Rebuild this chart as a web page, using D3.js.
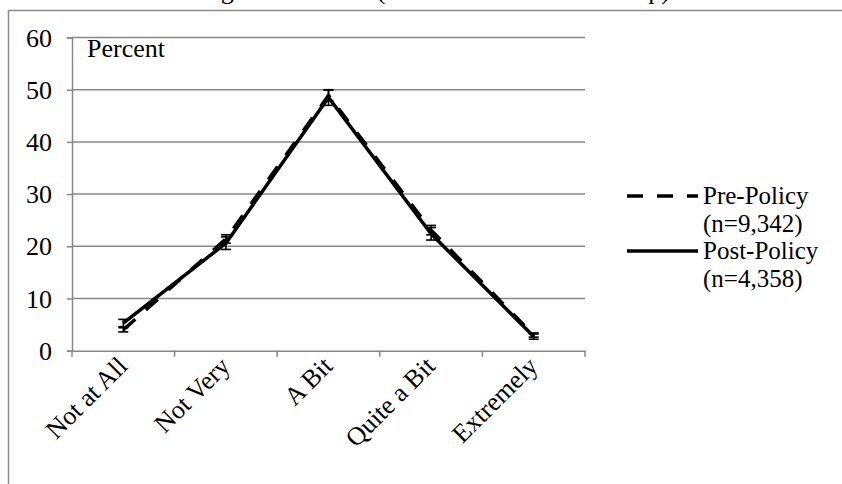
<!DOCTYPE html>
<html>
<head>
<meta charset="utf-8">
<script src="https://cdn.jsdelivr.net/npm/d3@7"></script>
<style>
  html, body { margin: 0; padding: 0; background: #fff; }
  svg { display: block; }
  text { font-family: "Liberation Serif", "Times New Roman", serif; fill: #000; }
</style>
</head>
<body>
<svg id="chart" width="842" height="484"></svg>
<script>
// Response categories and percentages per survey wave
const categories = ["Not at All", "Not Very", "A Bit", "Quite a Bit", "Extremely"];
const prePolicy = [4.0, 21.4, 48.9, 23.1, 3.0];
const postPolicy = [5.3, 20.6, 48.5, 22.4, 2.7];
const preError = [0.4, 0.8, 1.0, 0.9, 0.4];
const postError = [0.7, 1.2, 1.5, 1.2, 0.5];
const yTicks = [0, 10, 20, 30, 40, 50, 60];
const seriesNames = [["Pre-Policy", "(n=9,342)"], ["Post-Policy", "(n=4,358)"]];
const titleText = "Harm of Smoking Pre and Post (Whole Intervention Group)";

const svg = d3.select("#chart");
const FONT = 26;
const grey = "#878787";

const plot = { left: 72, right: 585, top: 37.5, bottom: 350.7 };

const x = d3.scaleBand().domain(categories).range([plot.left, plot.right]);
const y = d3.scaleLinear().domain([0, 60]).range([plot.bottom, plot.top]);

function label(g, str, tx, ty, anchor, size) {
  return g.append("text")
    .attr("x", tx).attr("y", ty)
    .attr("text-anchor", anchor || "start")
    .attr("font-size", size || FONT)
    .text(str);
}

// outer chart frame
svg.append("rect")
  .attr("x", 8.5).attr("y", 10.5)
  .attr("width", 900).attr("height", 600)
  .attr("fill", "none").attr("stroke", "#8c8c8c").attr("stroke-width", 1.5);

// title, mostly above the top edge of the page
label(svg, titleText, 46, -1.5);

// gridlines
svg.append("g").selectAll("line")
  .data(yTicks.filter(d => d > 0))
  .join("line")
  .attr("x1", plot.left).attr("x2", plot.right)
  .attr("y1", d => y(d)).attr("y2", d => y(d))
  .attr("stroke", grey).attr("stroke-width", 1.5);

// y axis
const yAxis = svg.append("g")
  .attr("transform", `translate(${plot.left},0)`)
  .call(d3.axisLeft(y).tickValues(yTicks).tickSize(5).tickFormat(""));
yAxis.select(".domain").attr("stroke", grey).attr("stroke-width", 1.5);
yAxis.selectAll(".tick line").attr("stroke", grey).attr("stroke-width", 1.5);
yTicks.forEach(t => label(svg, String(t), 52, y(t) + 9, "end"));

// x axis with ticks on category boundaries
const xAxis = svg.append("g")
  .attr("transform", `translate(0,${plot.bottom})`)
  .call(d3.axisBottom(x).tickSize(0).tickFormat(""));
xAxis.select(".domain").attr("stroke", grey).attr("stroke-width", 1.5);
const bounds = categories.map(c => x(c)).concat([plot.right]);
svg.append("g").selectAll("line")
  .data(bounds)
  .join("line")
  .attr("x1", d => d).attr("x2", d => d)
  .attr("y1", plot.bottom).attr("y2", plot.bottom + 6)
  .attr("stroke", grey).attr("stroke-width", 1.5);

// rotated category labels
categories.forEach(c => {
  const cx = x(c) + x.bandwidth() / 2;
  svg.append("text")
    .attr("transform", `translate(${cx + 5.5},${plot.bottom + 17}) rotate(-45)`)
    .attr("text-anchor", "end")
    .attr("font-size", FONT)
    .text(c);
});

// axis caption
label(svg, "Percent", 87, 57);

const cxOf = i => x(categories[i]) + x.bandwidth() / 2;
const line = d3.line().x((d, i) => cxOf(i)).y(d => y(d));

const series = [
  { values: prePolicy, err: preError, dash: "16,14" },
  { values: postPolicy, err: postError, dash: null }
];

series.forEach(s => {
  svg.append("path")
    .datum(s.values)
    .attr("d", line)
    .attr("fill", "none")
    .attr("stroke", "#000")
    .attr("stroke-width", 3.5)
    .attr("stroke-dasharray", s.dash);

  const eb = svg.append("g").attr("stroke", "#000").attr("stroke-width", 1.6);
  s.values.forEach((v, i) => {
    const cx = cxOf(i);
    const lo = y(v - s.err[i]), hi = y(v + s.err[i]);
    eb.append("line").attr("x1", cx).attr("x2", cx).attr("y1", lo).attr("y2", hi);
    eb.append("line").attr("x1", cx - 5).attr("x2", cx + 5).attr("y1", lo).attr("y2", lo);
    eb.append("line").attr("x1", cx - 5).attr("x2", cx + 5).attr("y1", hi).attr("y2", hi);
  });
});

// legend
const legend = svg.append("g");
[{ dash: "16,14", ly: 196 }, { dash: null, ly: 251 }].forEach((d, i) => {
  legend.append("line")
    .attr("x1", 627).attr("x2", 698)
    .attr("y1", d.ly).attr("y2", d.ly)
    .attr("stroke", "#000").attr("stroke-width", 3.5)
    .attr("stroke-dasharray", d.dash);
  label(legend, seriesNames[i][0], 703, d.ly + 8, "start", 25);
  label(legend, seriesNames[i][1], 703, d.ly + 36, "start", 25);
});
</script>
</body>
</html>
